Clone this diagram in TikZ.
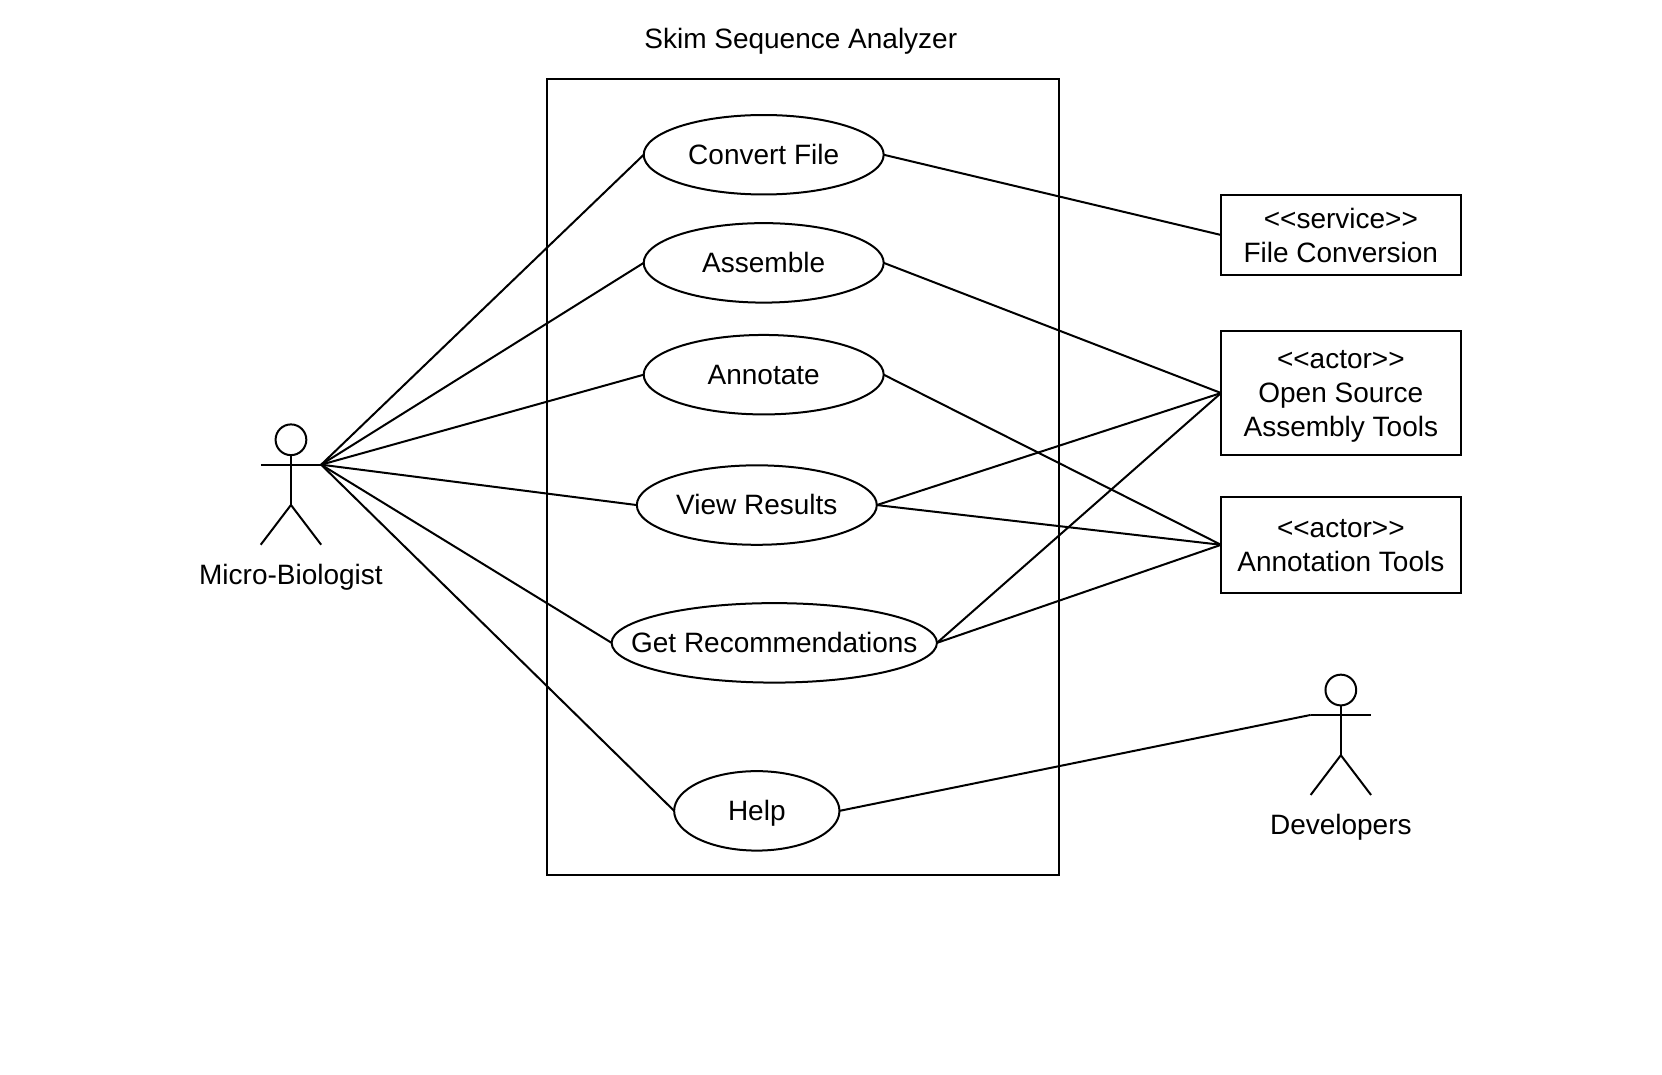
\documentclass[tikz,border=0pt]{standalone}
\usepackage{fontspec}
\setmainfont{Liberation Sans}
\usetikzlibrary{shapes.geometric}
\tikzset{
  every node/.style={font=\fontsize{21}{25.5}\selectfont},
  usecase/.style={draw, ellipse, inner xsep=-22pt, inner ysep=0, outer sep=0, minimum height=59.6pt, text height=18pt, text depth=3pt},
  service/.style={draw, rectangle, inner sep=0, outer sep=0, minimum width=179.7pt, align=center, text depth=0pt},
  stickman/.pic={
    \draw (0,-23.5) circle (14.5);
    \draw (-28.5,0) -- (28.5,0);
    \draw (0,-9) -- (0,38.5);
    \draw (-28.5,75.5) -- (0,38) -- (28.5,75.5);
    \coordinate (-lhand) at (-28.5,0);
    \coordinate (-rhand) at (28.5,0);
  }
}
\begin{document}
\begin{tikzpicture}[x=0.795pt, y=-0.795pt, line width=1.5pt]
\useasboundingbox (0,0) rectangle (1568,1014.2);

\node[draw, rectangle, inner sep=0, minimum width=384pt, minimum height=597pt] (system) at (757.5,449.8) {};
\node (title) at (755.5,39) {Skim Sequence Analyzer};

\node[usecase, minimum width=180pt] (convert) at (720.5,146) {Convert File};
\node[usecase, minimum width=180pt] (assemble) at (720.5,248) {Assemble};
\node[usecase, minimum width=180pt] (annotate) at (720.5,353.5) {Annotate};
\node[usecase, minimum width=180pt, text height=17pt] (results) at (714,476.5) {View Results};
\node[usecase, minimum width=244pt] (recommend) at (730.5,606.5) {Get Recommendations};
\node[usecase, minimum width=124pt] (help) at (714,765) {Help};

\node[service, minimum height=60pt] (conversion) at (1265,221.7) {<{}<service>{}>\\File Conversion};
\node[service, minimum height=93pt] (assembly) at (1265,370.8) {<{}<actor>{}>\\Open Source\\Assembly Tools};
\node[service, minimum height=71.9pt, text height=40pt] (annotation) at (1265,514) {<{}<actor>{}>\\Annotation Tools};

\pic (biologist) at (274.5,438.4) {stickman};
\node (biologistlabel) at (274.5,545) {Micro-Biologist};
\pic (developers) at (1265,674.5) {stickman};
\node (developerslabel) at (1265,780.5) {Developers};

\draw (biologist-rhand) -- (convert.west);
\draw (biologist-rhand) -- (assemble.west);
\draw (biologist-rhand) -- (annotate.west);
\draw (biologist-rhand) -- (results.west);
\draw (biologist-rhand) -- (recommend.west);
\draw (biologist-rhand) -- (help.west);

\draw (convert.east) -- (conversion.west);
\draw (assemble.east) -- (assembly.west);
\draw (annotate.east) -- (annotation.west);
\draw (results.east) -- (assembly.west);
\draw (results.east) -- (annotation.west);
\draw (recommend.east) -- (assembly.west);
\draw (recommend.east) -- (annotation.west);
\draw (help.east) -- (developers-lhand);
\end{tikzpicture}
\end{document}
